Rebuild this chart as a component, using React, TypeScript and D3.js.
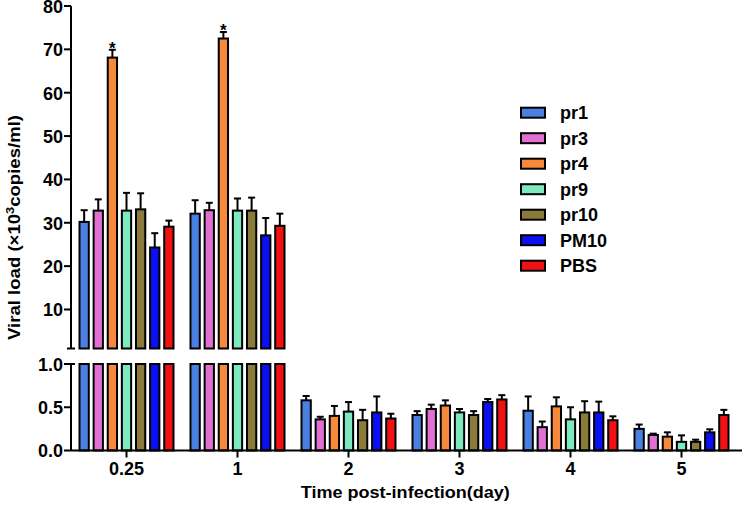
import React from "react";
import * as d3 from "d3";

const categories = ["0.25", "1", "2", "3", "4", "5"];
const seriesNames = ["pr1", "pr3", "pr4", "pr9", "pr10", "PM10", "PBS"];
const seriesColors = ["#4a80e2", "#e26fd2", "#f7893c", "#7ee8be", "#8a7b3a", "#0a10f2", "#f01212"];

const pr1 = [30.2, 32.1, 0.58, 0.41, 0.46, 0.25];
const pr1Err = [2.7, 3.1, 0.05, 0.045, 0.165, 0.05];
const pr3 = [32.8, 32.9, 0.36, 0.48, 0.27, 0.18];
const pr3Err = [2.6, 1.7, 0.03, 0.05, 0.065, 0.015];
const pr4 = [68.1, 72.5, 0.4, 0.52, 0.51, 0.16];
const pr4Err = [1.8, 1.5, 0.115, 0.06, 0.105, 0.05];
const pr9 = [32.8, 32.8, 0.45, 0.44, 0.36, 0.1];
const pr9Err = [4.1, 2.8, 0.11, 0.04, 0.14, 0.075];
const pr10 = [33.1, 32.8, 0.35, 0.41, 0.44, 0.1];
const pr10Err = [3.7, 3.0, 0.12, 0.045, 0.13, 0.025];
const pm10 = [24.3, 27.1, 0.44, 0.56, 0.44, 0.21];
const pm10Err = [3.3, 4.0, 0.185, 0.035, 0.125, 0.035];
const pbs = [29.1, 29.3, 0.37, 0.59, 0.35, 0.41];
const pbsErr = [1.4, 2.8, 0.055, 0.05, 0.045, 0.06];

const seriesValues = [pr1, pr3, pr4, pr9, pr10, pm10, pbs];
const seriesErrors = [pr1Err, pr3Err, pr4Err, pr9Err, pr10Err, pm10Err, pbsErr];

const topTicks = [10, 20, 30, 40, 50, 60, 70, 80];
const bottomTicks = [0, 0.5, 1.0];
const starSeries = ["pr4", "pr4"];
const starCategories = ["0.25", "1"];

const FONT = "'Liberation Sans', Arial, Helvetica, sans-serif";

export default function App() {
  const W = 742, H = 505;
  const axisX = 71;
  const yTop = d3.scaleLinear().domain([1, 80]).range([348.5, 6]);
  const yBot = d3.scaleLinear().domain([0, 1]).range([450.5, 364]);
  const x0 = d3.scaleBand().domain(categories).range([71, 737]).padding(0);
  const x1 = d3.scaleBand().domain(seriesNames).range([-48, 48]).paddingInner(0.2).paddingOuter(0);
  const center = (c: string) => (x0(c) as number) + x0.bandwidth() / 2;
  const bw = x1.bandwidth();
  const breakVal = 1;

  const yOf = (v: number) => (v > breakVal ? yTop(v) : yBot(v));

  const bars: React.ReactNode[] = [];
  seriesNames.forEach((s, si) => {
    categories.forEach((c, ci) => {
      const v = seriesValues[si][ci];
      const e = seriesErrors[si][ci];
      const xl = center(c) + (x1(s) as number);
      const xm = xl + bw / 2;
      const color = seriesColors[si];
      const key = `${s}-${c}`;
      if (v > breakVal) {
        bars.push(
          <rect key={key + "t"} x={xl + 1} y={yTop(v)} width={bw - 2} height={yTop(breakVal) - yTop(v)}
            fill={color} stroke="#000" strokeWidth={2} />
        );
        bars.push(
          <rect key={key + "b"} x={xl + 1} y={yBot(1)} width={bw - 2} height={yBot(0) - yBot(1)}
            fill={color} stroke="#000" strokeWidth={2} />
        );
      } else {
        bars.push(
          <rect key={key + "b"} x={xl + 1} y={yBot(v)} width={bw - 2} height={yBot(0) - yBot(v)}
            fill={color} stroke="#000" strokeWidth={2} />
        );
      }
      const y0 = yOf(v);
      const y1 = yOf(v + e);
      bars.push(
        <g key={key + "e"} stroke="#000" strokeWidth={2}>
          <line x1={xm} x2={xm} y1={y0} y2={y1} />
          <line x1={xm - 3.5} x2={xm + 3.5} y1={y1} y2={y1} />
        </g>
      );
    });
  });

  const stars = starSeries.map((s, i) => {
    const si = seriesNames.indexOf(s);
    const c = starCategories[i];
    const ci = categories.indexOf(c);
    const v = seriesValues[si][ci] + seriesErrors[si][ci];
    const xm = center(c) + (x1(s) as number) + bw / 2;
    return (
      <text key={"star" + i} x={xm} y={yTop(v) + 4} textAnchor="middle" fontSize={17} fontWeight="bold" fontFamily={FONT}>*</text>
    );
  });

  return (
    <svg width={W} height={H} style={{ position: "absolute", left: 0, top: 0, background: "#fff" }}>
      <rect x={0} y={0} width={W} height={H} fill="#fff" />
      {bars}
      {stars}
      <g stroke="#000" strokeWidth={2}>
        <line x1={axisX} x2={axisX} y1={yTop(80)} y2={yTop(breakVal)} />
        {topTicks.map((t) => (
          <line key={"tt" + t} x1={axisX - 7} x2={axisX} y1={yTop(t)} y2={yTop(t)} />
        ))}
        <line x1={axisX - 4} x2={axisX + 4} y1={yTop(breakVal)} y2={yTop(breakVal)} />
        <line x1={axisX} x2={axisX} y1={yBot(1)} y2={yBot(0)} />
        {bottomTicks.map((t) => (
          <line key={"bt" + t} x1={axisX - 7} x2={axisX} y1={yBot(t)} y2={yBot(t)} />
        ))}
        <line x1={axisX - 4} x2={axisX + 4} y1={yBot(1)} y2={yBot(1)} />
        <line x1={axisX} x2={W} y1={yBot(0)} y2={yBot(0)} />
        {categories.map((c) => (
          <line key={"xt" + c} x1={center(c)} x2={center(c)} y1={yBot(0)} y2={yBot(0) + 7} />
        ))}
      </g>
      <g fontFamily={FONT} fontWeight="bold" fontSize={18} fill="#000">
        {topTicks.map((t) => (
          <text key={"tl" + t} x={axisX - 8} y={yTop(t) + 7} textAnchor="end">{t}</text>
        ))}
        {bottomTicks.map((t) => (
          <text key={"bl" + t} x={axisX - 8} y={yBot(t) + 6.5} textAnchor="end">{d3.format(".1f")(t)}</text>
        ))}
        {categories.map((c) => (
          <text key={"xl" + c} x={center(c)} y={475} textAnchor="middle">{c}</text>
        ))}
      </g>
      <text x={405.3} y={497.7} textAnchor="middle" fontFamily={FONT} fontWeight="bold" fontSize={16}
        textLength={209} lengthAdjust="spacingAndGlyphs">Time post-infection(day)</text>
      <text transform="translate(20,227.5) rotate(-90)" textAnchor="middle" fontFamily={FONT} fontWeight="bold" fontSize={16}
        textLength={225} lengthAdjust="spacingAndGlyphs">
        Viral load (×10<tspan fontSize={11} dy={-6}>3</tspan><tspan dy={6}>copies/ml)</tspan>
      </text>
      <g fontFamily={FONT} fontWeight="bold" fontSize={18}>
        {seriesNames.map((s, i) => {
          const cy = 112.7 + i * 25.5;
          return (
            <g key={"lg" + s}>
              <rect x={521} y={cy - 5} width={24} height={10} fill={seriesColors[i]} stroke="#000" strokeWidth={2} />
              <text x={560} y={cy + 6.5}>{s}</text>
            </g>
          );
        })}
      </g>
    </svg>
  );
}
